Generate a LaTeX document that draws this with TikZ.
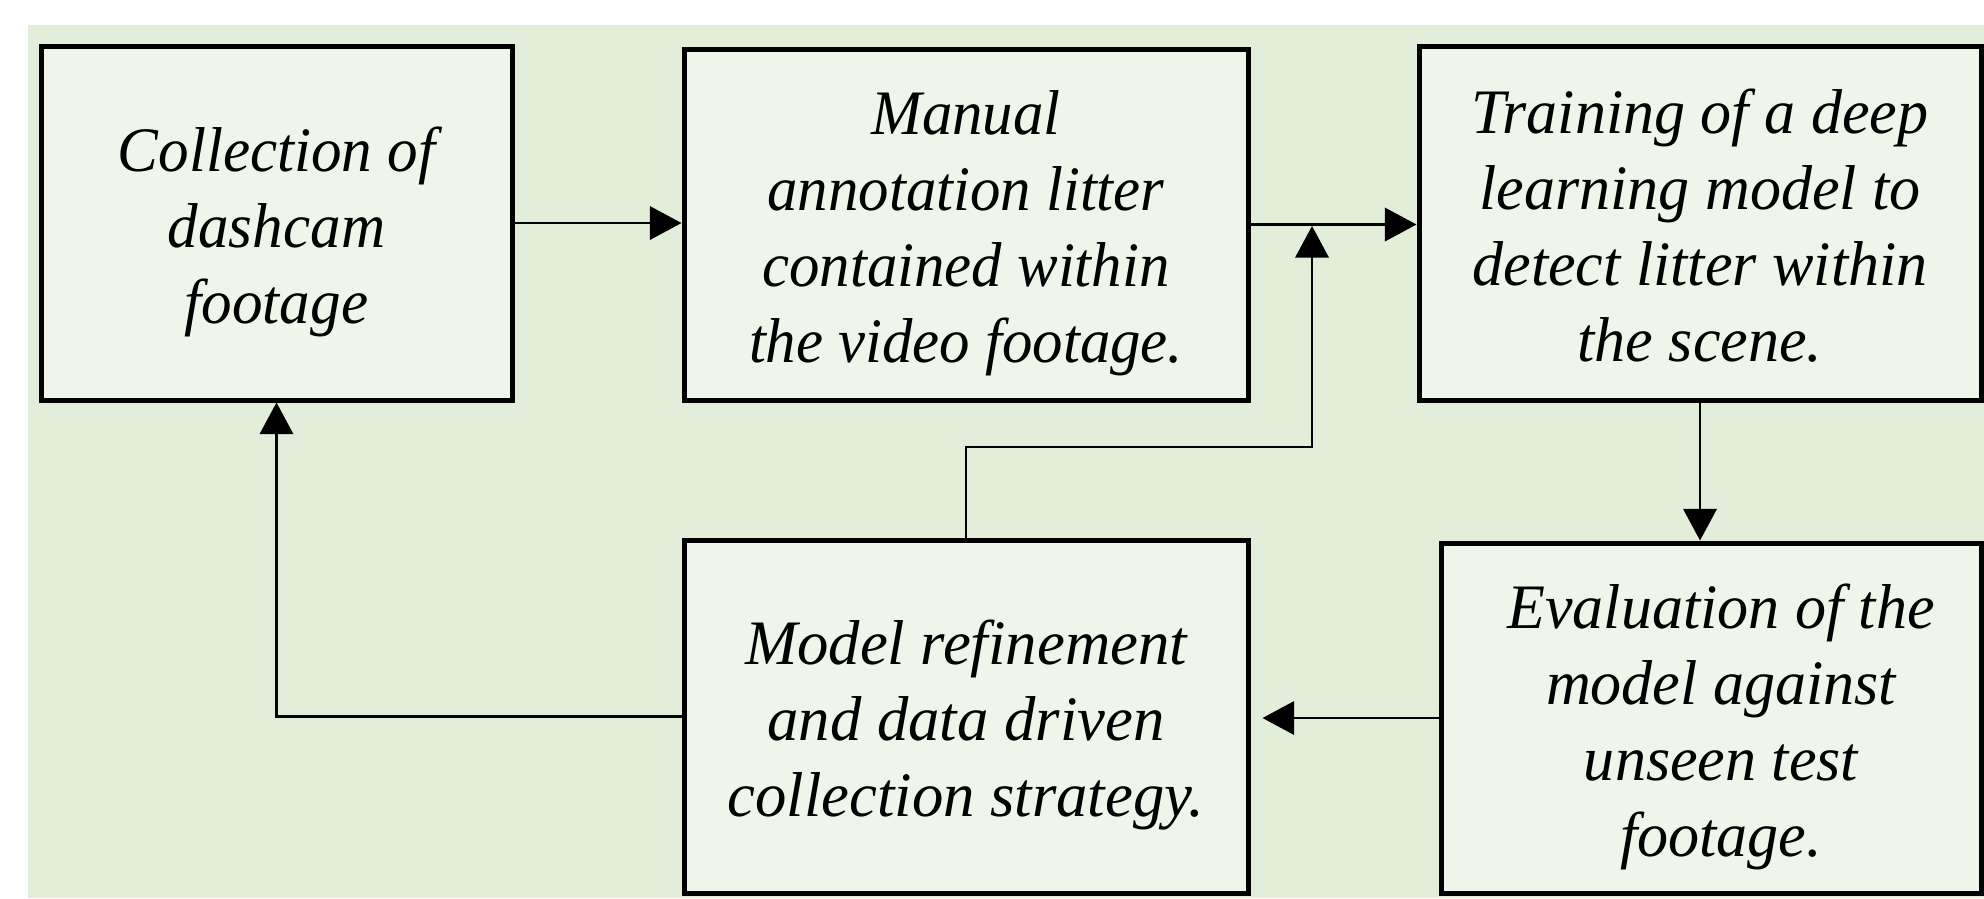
\documentclass[tikz,border=0pt]{standalone}
\usepackage{fontspec}
\setmainfont{Liberation Serif}
\usepackage{graphicx}
\usetikzlibrary{arrows.meta}
\definecolor{bgc}{RGB}{226,237,218}
\definecolor{boxc}{RGB}{239,245,235}
\newcommand{\boxtext}[2]{\raisebox{-2.7pt}[\height][\depth]{\scalebox{#1}[1]{\begin{tabular}{@{}c@{}}#2\end{tabular}}}}
\tikzset{
  stagebox/.style={draw=black, fill=boxc, line width=1.5pt, inner sep=0pt,
    font=\fontsize{19}{22.8}\selectfont\itshape},
  conn/.style={line width=0.8pt, -{Triangle[length=9.5pt,width=10pt]}},
  plainconn/.style={line width=0.8pt}
}
\begin{document}
\begin{tikzpicture}[x=0.3pt, y=-0.3pt]
\useasboundingbox (0,0) rectangle (1984,898);
\clip (0,0) rectangle (1984,898);
\fill[bgc] (28,25) rectangle (1984,898);
\node[stagebox, minimum width=141.3pt, minimum height=106.2pt] (b1) at (276.5,223)
  {\boxtext{0.965}{Collection of\\dashcam\\footage}};
\node[stagebox, minimum width=169.2pt, minimum height=105.3pt] (b2) at (966,224.5)
  {\boxtext{0.96}{Manual\\annotation litter\\contained within\\the video footage.}};
\node[stagebox, minimum width=168.6pt, minimum height=106.2pt] (b3) at (1700,223)
  {\boxtext{0.98}{Training of a deep\\learning model to\\detect litter within\\the scene.}};
\node[stagebox, minimum width=162pt, minimum height=105pt] (b4) at (1711,718)
  {\hspace*{6pt}\boxtext{0.98}{Evaluation of the\\model against\\unseen test\\footage.}};
\node[stagebox, minimum width=169.2pt, minimum height=105.9pt] (b5) at (966,716.5)
  {\boxtext{0.99}{Model refinement\\and data driven\\collection strategy.}};
\coordinate (fbcorner) at (1312,447);
\coordinate (fbtip) at (1312,226);
\draw[conn] (b1.east) -- (b1.east -| b2.west);
\draw[conn] (b2.east) -- (b2.east -| b3.west);
\draw[conn] (b3.south) -- (b3.south |- b4.north);
\draw[conn, shorten >=3.6pt] (b4.west) -- (b4.west -| b5.east);
\draw[conn] (b5.west) -| (b1.south);
\draw[conn] (b5.north) |- (fbcorner) -- (fbtip);
\end{tikzpicture}
\end{document}
